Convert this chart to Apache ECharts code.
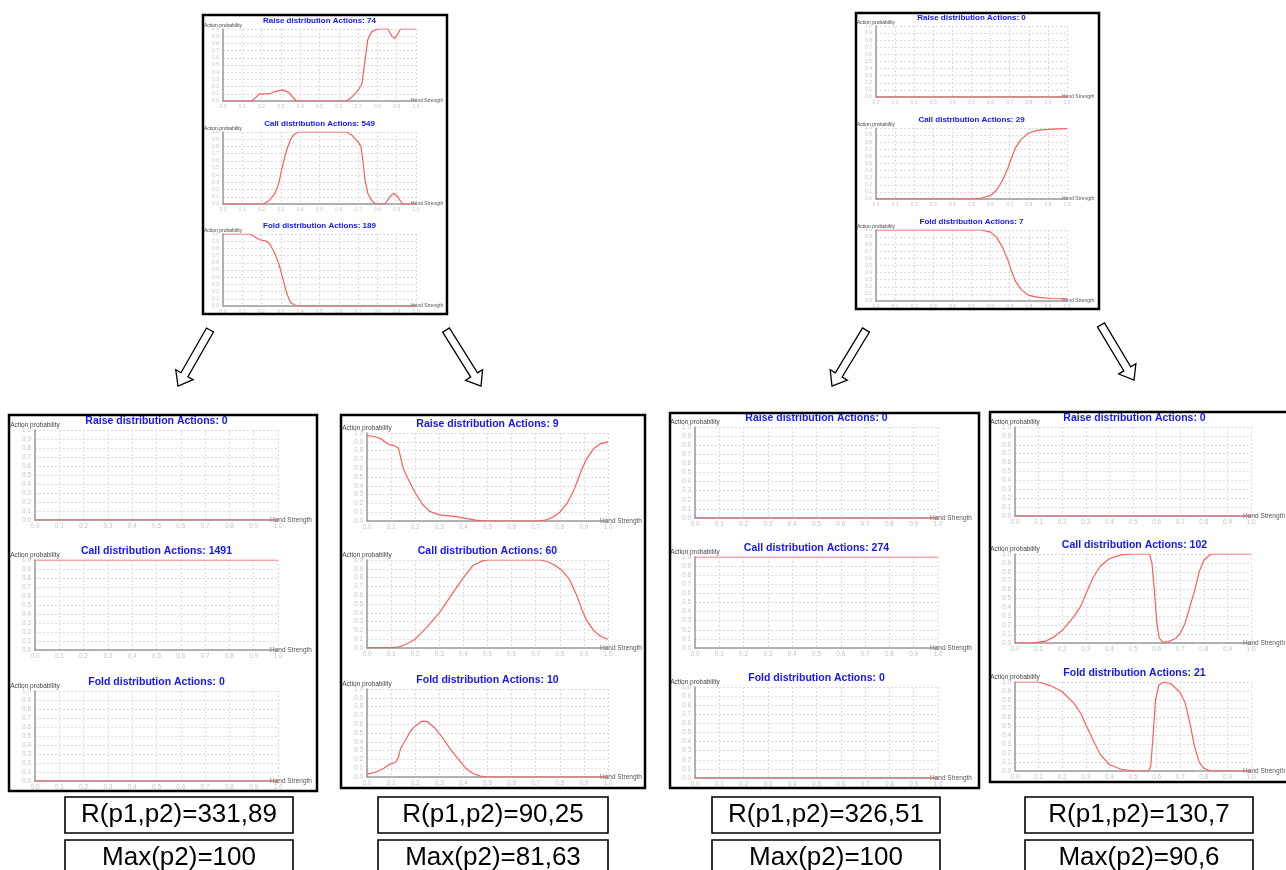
<!DOCTYPE html>
<html>
<head>
<meta charset="utf-8">
<script src="https://cdn.jsdelivr.net/npm/echarts@6/dist/echarts.min.js"></script>
<style>
html, body { margin: 0; padding: 0; background: #fff; }
#main { width: 1286px; height: 870px; }
</style>
</head>
<body>
<div id="main"></div>
<script>
// [hand strength, action probability]
const aRaise = [[0,0],[0.15,0],[0.17,0.05],[0.19,0.1],[0.24,0.1],[0.27,0.13],[0.31,0.155],[0.34,0.12],[0.38,0],[0.64,0],[0.67,0.06],[0.7,0.15],[0.72,0.24],[0.73,0.45],[0.74,0.65],[0.75,0.85],[0.77,0.96],[0.8,1],[0.855,1],[0.875,0.9],[0.89,0.87],[0.905,0.93],[0.92,1],[1,1]];
const aCall = [[0,0],[0.21,0],[0.24,0.05],[0.27,0.15],[0.29,0.3],[0.31,0.55],[0.33,0.75],[0.35,0.9],[0.37,0.97],[0.39,1],[0.64,1],[0.67,0.95],[0.7,0.86],[0.715,0.8],[0.725,0.6],[0.735,0.35],[0.75,0.15],[0.77,0.05],[0.79,0],[0.84,0],[0.865,0.1],[0.885,0.15],[0.905,0.1],[0.93,0],[1,0]];
const aFold = [[0,1],[0.14,1],[0.17,0.95],[0.19,0.92],[0.225,0.9],[0.245,0.85],[0.27,0.72],[0.29,0.58],[0.31,0.38],[0.33,0.18],[0.35,0.05],[0.38,0],[1,0]];

const bRaise = [[0,0],[1,0]];
const bCall = [[0,0],[0.5,0],[0.55,0.01],[0.6,0.05],[0.63,0.12],[0.66,0.25],[0.69,0.43],[0.71,0.58],[0.73,0.72],[0.76,0.84],[0.8,0.93],[0.85,0.97],[0.92,0.985],[1,0.99]];
const bFold = [[0,1],[0.55,1],[0.6,0.97],[0.63,0.9],[0.66,0.77],[0.69,0.58],[0.71,0.42],[0.73,0.28],[0.76,0.16],[0.8,0.08],[0.85,0.05],[0.92,0.035],[1,0.03]];

const cRaise = [[0,0],[1,0]];
const cCall = [[0,1],[1,1]];
const cFold = [[0,0],[1,0]];

const dRaise = [[0,0.97],[0.03,0.96],[0.06,0.93],[0.09,0.87],[0.11,0.86],[0.13,0.83],[0.14,0.72],[0.15,0.6],[0.17,0.48],[0.2,0.32],[0.23,0.19],[0.26,0.11],[0.3,0.07],[0.37,0.05],[0.45,0.01],[0.5,0],[0.71,0],[0.74,0.01],[0.77,0.04],[0.8,0.1],[0.83,0.2],[0.86,0.36],[0.89,0.58],[0.91,0.7],[0.94,0.82],[0.97,0.88],[1,0.9]];
const dCall = [[0,0.005],[0.1,0.005],[0.13,0.01],[0.16,0.04],[0.2,0.1],[0.25,0.24],[0.3,0.4],[0.35,0.6],[0.4,0.8],[0.44,0.94],[0.48,0.99],[0.5,1],[0.72,1],[0.75,0.98],[0.78,0.94],[0.81,0.88],[0.84,0.78],[0.87,0.6],[0.89,0.45],[0.91,0.32],[0.94,0.2],[0.97,0.13],[1,0.1]];
const dFold = [[0,0.03],[0.04,0.06],[0.07,0.1],[0.09,0.14],[0.12,0.17],[0.13,0.22],[0.14,0.33],[0.16,0.42],[0.18,0.52],[0.2,0.58],[0.23,0.635],[0.25,0.63],[0.28,0.56],[0.31,0.46],[0.35,0.3],[0.38,0.2],[0.41,0.1],[0.44,0.04],[0.47,0.01],[0.5,0],[1,0]];

const eRaise = [[0,0],[1,0]];
const eCall = [[0,1],[1,1]];
const eFold = [[0,0],[1,0]];

const fRaise = [[0,0],[1,0]];
const fCall = [[0,0],[0.07,0],[0.1,0.01],[0.13,0.02],[0.16,0.06],[0.2,0.14],[0.25,0.3],[0.28,0.42],[0.3,0.55],[0.33,0.73],[0.36,0.86],[0.4,0.95],[0.45,0.99],[0.5,1],[0.57,1],[0.58,0.9],[0.59,0.6],[0.6,0.25],[0.61,0.06],[0.625,0.01],[0.65,0.015],[0.68,0.05],[0.7,0.11],[0.72,0.22],[0.74,0.4],[0.76,0.58],[0.78,0.8],[0.8,0.93],[0.83,1],[1,1]];
const fFold = [[0,1],[0.1,1],[0.15,0.96],[0.2,0.89],[0.25,0.76],[0.28,0.64],[0.3,0.52],[0.33,0.35],[0.36,0.19],[0.4,0.07],[0.45,0.02],[0.5,0],[0.565,0],[0.575,0.05],[0.585,0.4],[0.595,0.8],[0.61,0.97],[0.63,1],[0.66,0.98],[0.7,0.88],[0.72,0.77],[0.74,0.55],[0.76,0.28],[0.78,0.1],[0.8,0.03],[0.83,0],[1,0]];

const actionNames = ['Raise', 'Call', 'Fold'];
// action counts per panel: top-left, top-right, then the four bottom panels
const actionCounts = [[74, 549, 189], [0, 29, 7], [0, 1491, 0], [9, 60, 10], [0, 274, 0], [0, 102, 21]];
const panelCurves = [
    [aRaise, aCall, aFold], [bRaise, bCall, bFold], [cRaise, cCall, cFold],
    [dRaise, dCall, dFold], [eRaise, eCall, eFold], [fRaise, fCall, fFold]
];
const rValues = ['331,89', '90,25', '326,51', '130,7'];
const maxValues = ['100', '81,63', '100', '90,6'];

// panel geometry (px)
const layout = [
    { box: [203, 15, 447, 314], x0: 223, x1: 416, tops: [29, 132, 234], h: 72, small: true },
    { box: [856, 13, 1099, 309], x0: 876, x1: 1067, tops: [26, 128, 230], h: 71, small: true },
    { box: [9, 415, 317, 791], x0: 35, x1: 278, tops: [430, 560, 691], h: 90 },
    { box: [341, 415, 645, 788], x0: 367, x1: 608, tops: [433, 560, 689], h: 88 },
    { box: [670, 413, 979, 788], x0: 695, x1: 938, tops: [427, 557, 687], h: 91 },
    { box: [990, 412, 1292, 782], x0: 1015, x1: 1254, tops: [427, 554, 682], h: 89 }
];
const arrows = [[210, 330, 178, 386], [446, 330, 481, 386], [866, 330, 832, 386], [1101, 325, 1134, 380]];
const textBoxes = [[65, 293], [378, 608], [712, 940], [1025, 1253]];

const FONT = '"Liberation Sans", Arial, sans-serif';

const grid = [], xAxis = [], yAxis = [], series = [], title = [], graphic = [];

layout.forEach(function (p, pi) {
    const fs = p.small
        ? { title: 8, name: 5, tick: 5, gapX: -5, titleOff: 7 }
        : { title: 10.5, name: 6.5, tick: 6.5, gapX: -8, titleOff: 8 };
    p.tops.forEach(function (top, ci) {
        const idx = grid.length;
        grid.push({ left: p.x0, top: top, width: p.x1 - p.x0, height: p.h, containLabel: false });
        xAxis.push({
            type: 'value', gridIndex: idx, min: 0, max: 1, interval: 0.1,
            name: 'Hand Strength', nameLocation: 'end', nameGap: fs.gapX, nameMoveOverlap: false,
            nameTextStyle: { fontSize: fs.name, color: '#555', fontFamily: FONT, verticalAlign: 'middle' },
            axisLine: { lineStyle: { color: '#9a9a9a', width: 1.5 } },
            axisTick: { show: false },
            axisLabel: {
                fontSize: fs.tick, color: '#c4c4c4', fontFamily: FONT, margin: 3,
                formatter: function (v) { return v.toFixed(1); }
            },
            splitLine: { show: true, lineStyle: { color: '#dcdcdc', type: [2, 2], width: 1 } }
        });
        yAxis.push({
            type: 'value', gridIndex: idx, min: 0, max: 1, interval: 0.1,
            name: 'Action probability', nameLocation: 'end', nameGap: 1, nameMoveOverlap: false,
            nameTextStyle: { fontSize: fs.name, color: '#444', fontFamily: FONT },
            axisLine: { show: true, lineStyle: { color: '#9a9a9a', width: 1.5 } },
            axisTick: { show: false },
            axisLabel: {
                fontSize: fs.tick, color: '#c4c4c4', fontFamily: FONT, margin: 4,
                formatter: function (v) { return v.toFixed(1); }
            },
            splitLine: { show: true, lineStyle: { color: '#dcdcdc', type: [2, 2], width: 1 } }
        });
        series.push({
            type: 'line', xAxisIndex: idx, yAxisIndex: idx,
            data: panelCurves[pi][ci],
            showSymbol: false, symbol: 'none',
            lineStyle: { color: '#ff5c5c', width: 1.2 },
            z: 5, animation: false
        });
        title.push({
            text: actionNames[ci] + ' distribution Actions: ' + actionCounts[pi][ci],
            left: (p.x0 + p.x1) / 2, textAlign: 'center',
            top: top - fs.titleOff - fs.title * 0.6, padding: 0,
            textStyle: { fontSize: fs.title, fontWeight: 'bold', color: '#1414ff', fontFamily: FONT }
        });
    });
    graphic.push({
        type: 'rect', z: 100,
        shape: { x: p.box[0], y: p.box[1], width: p.box[2] - p.box[0], height: p.box[3] - p.box[1] },
        style: { fill: 'none', stroke: '#000', lineWidth: 2.5 }
    });
});

function arrowPoints(tx, ty, hx, hy) {
    const dx = hx - tx, dy = hy - ty, L = Math.hypot(dx, dy);
    const ux = dx / L, uy = dy / L, px = -uy, py = ux;
    const sw = 4, hw = 10, hl = 13;
    const bx = hx - ux * hl, by = hy - uy * hl;
    return [
        [tx + px * sw, ty + py * sw], [bx + px * sw, by + py * sw], [bx + px * hw, by + py * hw],
        [hx, hy],
        [bx - px * hw, by - py * hw], [bx - px * sw, by - py * sw], [tx - px * sw, ty - py * sw]
    ];
}
arrows.forEach(function (a) {
    graphic.push({
        type: 'polygon', z: 100,
        shape: { points: arrowPoints(a[0], a[1], a[2], a[3]) },
        style: { fill: '#fff', stroke: '#000', lineWidth: 1.3 }
    });
});

textBoxes.forEach(function (b, i) {
    const cx = (b[0] + b[1]) / 2;
    [[797, 36, 'R(p1,p2)=' + rValues[i]], [840, 40, 'Max(p2)=' + maxValues[i]]].forEach(function (r) {
        graphic.push({
            type: 'rect', z: 100,
            shape: { x: b[0], y: r[0], width: b[1] - b[0], height: r[1] },
            style: { fill: '#fff', stroke: '#000', lineWidth: 1.6 }
        });
        graphic.push({
            type: 'text', z: 101, x: cx, y: r[0] + 18,
            style: {
                text: r[2], fill: '#000', font: '26px ' + FONT,
                textAlign: 'center', textVerticalAlign: 'middle', align: 'center', verticalAlign: 'middle'
            }
        });
    });
});

const chart = echarts.init(document.getElementById('main'), null, { renderer: 'canvas' });
chart.setOption({
    animation: false,
    backgroundColor: '#fff',
    title: title,
    grid: grid,
    xAxis: xAxis,
    yAxis: yAxis,
    series: series,
    graphic: graphic
});
</script>
</body>
</html>
